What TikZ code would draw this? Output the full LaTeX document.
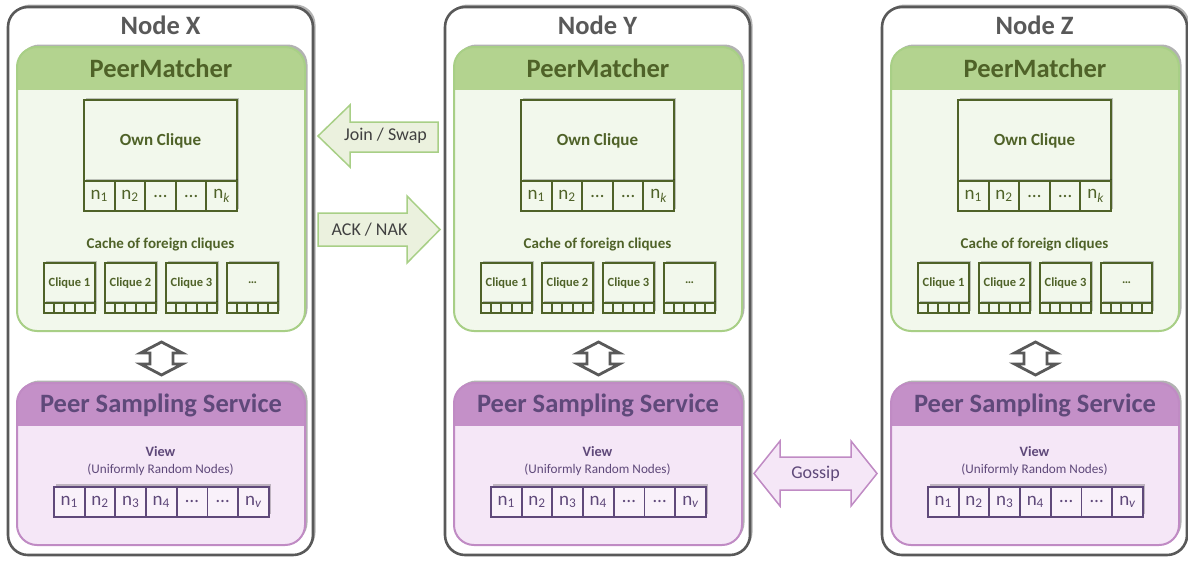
\documentclass[tikz,border=0pt]{standalone}
\usepackage{fontspec}
\setmainfont{Carlito}
\usetikzlibrary{shadows}
\definecolor{frame}{HTML}{595959}
\definecolor{pmhead}{HTML}{B3D38F}
\definecolor{pmbody}{HTML}{F2F8EC}
\definecolor{pmedge}{HTML}{A8CF86}
\definecolor{olive}{HTML}{4F6228}
\definecolor{psshead}{HTML}{C490C8}
\definecolor{pssbody}{HTML}{F5E7F7}
\definecolor{pssedge}{HTML}{C08BC4}
\definecolor{plum}{HTML}{5F497A}
\definecolor{msggreen}{HTML}{EBF1DE}
\definecolor{msgtext}{HTML}{404040}
\newcommand\fs[1]{\fontsize{#1}{#1}\selectfont}
\begin{document}
\begin{tikzpicture}[x=1pt, y=-1pt,
  softshadow/.style={drop shadow={opacity=0.3, shadow xshift=2.5, shadow yshift=-2.5, fill=black}},
  nodeframe/.style={draw=frame, line width=2.6, fill=white, rounded corners=20, softshadow},
  title/.style={font=\bfseries\fs{26.5}, inner sep=0},
  olivecell/.style={draw=olive, line width=2, fill=pmbody, inner sep=0,
    drop shadow={opacity=0.22, shadow xshift=2, shadow yshift=-2.5, fill=black}},
  plumcell/.style={draw=plum, line width=1.8, fill=pssbody!60!white, inner sep=0,
    drop shadow={opacity=0.22, shadow xshift=2, shadow yshift=-2.5, fill=black}},
  celltext/.style={font=\fs{19}, inner sep=0},
  greenmsg/.style={fill=msggreen, draw=pmedge, line width=1.5, line join=miter},
  plummsg/.style={fill=pssbody, draw=pssedge, line width=1.5, line join=miter},
  linkarrow/.style={fill=white, draw=frame, line width=2.8, line join=miter}
]
\useasboundingbox (0,0) rectangle (1188,560);

\foreach \off/\L in {0/X, 437/Y, 874/Z}{
\begin{scope}[xshift=\off]
  % node frame and its title
  \path[nodeframe] (8,7) rectangle (313,555);
  \node[title, text=frame] (title\L) at (160.5,25) {Node \L};

  % PeerMatcher panel
  \path[fill=pmbody, rounded corners=20, softshadow] (17,47) rectangle (305,331);
  \begin{scope}
    \clip (10,40) rectangle (312,89);
    \fill[pmhead, rounded corners=20] (17,47) rectangle (305,331);
  \end{scope}
  \draw[pmedge, line width=2, rounded corners=20] (17,47) rectangle (305,331);
  \node[title, text=olive] (pm\L) at (161,68) {PeerMatcher};

  % own clique with its member slots
  \node[olivecell, minimum width=153, minimum height=81, anchor=north west,
        font=\bfseries\fs{17}, text=olive] (own\L) at (83,99) {Own Clique};
  \foreach \i/\t in {0/n\textsubscript{1}, 1/n\textsubscript{2}, 2/…, 3/…, 4/n\textsubscript{\itshape k}}{
    \node[olivecell, minimum width=30.6, minimum height=30, anchor=north west,
          celltext, text=olive] (own\L\i) at ({83+30.6*\i},180) {\t};
  }

  % cache of foreign cliques
  \node[font=\bfseries\fs{15}, text=olive, inner sep=0] (cache\L) at (160.5,245) {Cache of foreign cliques};
  \foreach \i/\t in {0/Clique 1, 1/Clique 2, 2/Clique 3, 3/…}{
    \pgfmathsetmacro\cx{43+61*\i}
    \node[olivecell, minimum width=51, minimum height=40, anchor=north west,
          font=\bfseries\fs{12.5}, text=olive] (fc\L\i) at (\cx,262) {\t};
    \foreach \j in {0,...,4}{
      \node[olivecell, minimum width=10.2, minimum height=10, anchor=north west]
        (fc\L\i s\j) at ({\cx+10.2*\j},302) {};
    }
  }

  % link between PeerMatcher and the sampling service
  \coordinate (va\L) at (161.5,358.5);
  \draw[linkarrow] (va\L) ++(0,-16.5) -- ++(21,11) -- ++(-9.5,0) -- ++(0,11) -- ++(9.5,0)
    -- ++(-21,11) -- ++(-21,-11) -- ++(9.5,0) -- ++(0,-11) -- ++(-9.5,0) -- cycle;

  % Peer Sampling Service panel
  \path[fill=pssbody, rounded corners=20, softshadow] (17,383) rectangle (305,545);
  \begin{scope}
    \clip (10,375) rectangle (312,425);
    \fill[psshead, rounded corners=20] (17,383) rectangle (305,545);
  \end{scope}
  \draw[pssedge, line width=2, rounded corners=20] (17,383) rectangle (305,545);
  \node[title, text=plum] (pss\L) at (161,405) {Peer Sampling Service};

  \node[font=\bfseries\fs{14.3}, text=plum, inner sep=0] (view\L) at (160.5,452) {View};
  \node[font=\fs{13.2}, text=plum, inner sep=0] (viewsub\L) at (160.5,469.5) {(Uniformly Random Nodes)};
  \foreach \i/\t in {0/n\textsubscript{1}, 1/n\textsubscript{2}, 2/n\textsubscript{3}, 3/n\textsubscript{4}, 4/…, 5/…, 6/n\textsubscript{\itshape v}}{
    \node[plumcell, minimum width=30.7, minimum height=30, anchor=north west,
          celltext, text=plum] (v\L\i) at ({53+30.7*\i},486) {\t};
  }
\end{scope}
}

% messages between the nodes
\draw[greenmsg] (318,136) -- (350,105) -- (350,122) -- (438,122) -- (438,152)
  -- (350,152) -- (350,167) -- cycle;
\node[font=\fs{18}, text=msgtext, inner sep=0] (join) at (385.5,136) {Join / Swap};

\draw[greenmsg] (318,213) -- (407,213) -- (407,196) -- (440,229.5) -- (407,263)
  -- (407,246) -- (318,246) -- cycle;
\node[font=\fs{18}, text=msgtext, inner sep=0] (ack) at (369.5,230) {ACK / NAK};

\draw[plummsg] (754,473.5) -- (780,441) -- (780,457) -- (851,457) -- (851,441)
  -- (877,473.5) -- (851,506) -- (851,490) -- (780,490) -- (780,506) -- cycle;
\node[font=\fs{18}, text=plum, inner sep=0] (gossip) at (815.5,473.5) {Gossip};
\end{tikzpicture}
\end{document}
